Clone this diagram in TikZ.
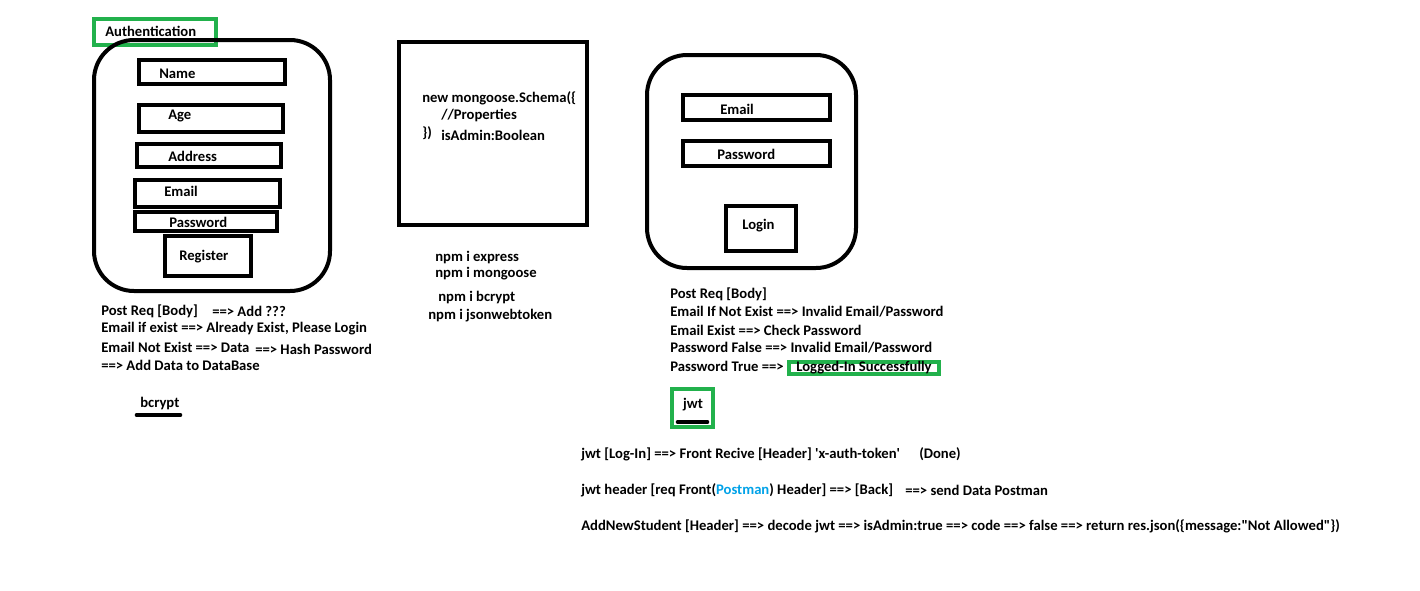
\documentclass[tikz,border=0pt]{standalone}
\usepackage{fontspec}
\setmainfont{Carlito}
\definecolor{paintgreen}{RGB}{34,177,76}
\definecolor{paintblue}{RGB}{0,162,232}
\begin{document}
\begin{tikzpicture}[x=0.75pt,y=-0.75pt,line cap=butt,line join=miter,font=\bfseries\fontsize{11}{13}\selectfont]
		\tikzset{card/.style={draw,line width=3pt,rounded corners=30pt},
			field/.style={draw,line width=3pt},
			greenbox/.style={draw=paintgreen,line width=3pt},
			txt/.style={anchor=west,inner sep=0pt}}
		\useasboundingbox[fill=white] (0,0) rectangle (1420,590);
		%--------- Register form
		\draw[greenbox] (94,19) rectangle (216,45);
		\node[txt] (auth) at (105,31) {Authentication};
		\draw[card] (94,40) rectangle (330,291);
		\draw[field] (139,60) rectangle (285,84);
		\node[txt] (name) at (159,74) {Name};
		\draw[field] (139,105) rectangle (283,132);
		\node[txt] (age) at (168,116) {Age};
		\draw[field] (137,144) rectangle (281,167);
		\node[txt] (address) at (168,156) {Address};
		\draw[field] (135,180) rectangle (280,207);
		\node[txt] (email) at (164,191) {Email};
		\draw[field] (135,212) rectangle (277,231);
		\node[txt] (password) at (169,222) {Password};
		\draw[field] (165,236) rectangle (251,276);
		\node[txt] (register) at (179,257) {Register};
		%--------- Register notes
		\node[txt] (reg1) at (101,311) {Post Req [Body]};
		\node[txt] (reg1b) at (212,311) {==> Add ???};
		\node[txt] (reg2) at (101,329) {Email if exist ==> Already Exist, Please Login};
		\node[txt] (reg3) at (101,347) {Email Not Exist ==> Data};
		\node[txt] (reg3b) at (255,349) {==> Hash Password};
		\node[txt] (reg4) at (101,365) {==> Add Data to DataBase};
		\node[txt] (bcrypt) at (140,403) {bcrypt};
		\draw[line width=3.5pt,line cap=round] (137,415) -- (180,415);
		%--------- Schema
		\draw[field] (399,42) rectangle (587,225);
		\node[txt] (schema1) at (422,98) {new mongoose.Schema(\{};
		\node[txt] (schema2) at (441,115) {//Properties};
		\node[txt] (schema3) at (422,133) {\})};
		\node[txt] (schema4) at (441,135) {isAdmin:Boolean};
		\node[txt] (npm1) at (435,257) {npm i express};
		\node[txt] (npm2) at (435,274) {npm i mongoose};
		\node[txt] (npm3) at (438,297) {npm i bcrypt};
		\node[txt] (npm4) at (428,316) {npm i jsonwebtoken};
		%--------- Login form
		\draw[card] (647,55) rectangle (856,268);
		\draw[field] (683,95) rectangle (830,120);
		\node[txt] (lemail) at (720,109) {Email};
		\draw[field] (683,141) rectangle (830,166);
		\node[txt] (lpassword) at (717,154) {Password};
		\draw[field] (726,206) rectangle (796,251);
		\node[txt] (login) at (742,226) {Login};
		%--------- Login notes
		\node[txt] (log1) at (670,294) {Post Req [Body]};
		\node[txt] (log2) at (670,312) {Email If Not Exist ==> Invalid Email/Password};
		\node[txt] (log3) at (670,330) {Email Exist ==> Check Password};
		\node[txt] (log4) at (670,348) {Password False ==> Invalid Email/Password};
		\node[txt] (log5) at (670,366) {Password True ==>};
		\node[greenbox,fill=white,anchor=west,inner sep=0pt,minimum width=112.5pt,minimum height=8.25pt] (logged) at (787,368) {Logged-In Successfully};
		\draw[greenbox] (672,389) rectangle (713,427);
		\node (jwt) at (693,405) {jwt};
		\draw[line width=3.5pt,line cap=round] (678,422) -- (707,422);
		%--------- jwt notes
		\node[txt] (jwt1) at (581,454) {jwt [Log-In] ==> Front Recive [Header] \textquotesingle x-auth-token\textquotesingle};
		\node[txt] (done) at (919,454) {(Done)};
		\node[txt] (jwt2) at (581,490) {jwt header [req Front(\textcolor{paintblue}{Postman}) Header] ==> [Back]};
		\node[txt] (jwt2b) at (905,490) {==> send Data Postman};
		\node[txt] (jwt3) at (581,526) {AddNewStudent [Header] ==> decode jwt ==> isAdmin:true ==> code ==> false ==> return res.json(\{message:\textquotedbl Not Allowed\textquotedbl\})};
	\end{tikzpicture}
\end{document}
